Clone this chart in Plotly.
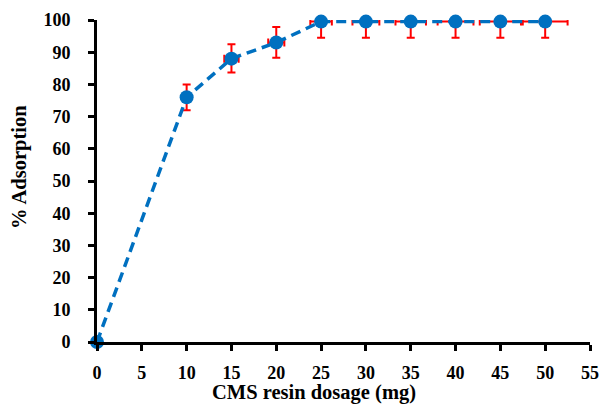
import plotly.graph_objects as go

dosage = [0, 10, 15, 20, 25, 30, 35, 40, 45, 50]
adsorption = [0, 76, 88, 93, 99.5, 99.5, 99.5, 99.5, 99.5, 99.5]
err_y_plus = [0, 4, 4.5, 4.8, 0.5, 0.5, 0.5, 0.5, 0.5, 0.5]
err_y_minus = [0, 4, 4.3, 4.7, 5, 5, 5, 5, 5, 5]
err_x = [0, 0.2, 0.8, 0.9, 1.2, 1.5, 1.7, 2.0, 2.3, 2.5]
x_ticks = [0, 5, 10, 15, 20, 25, 30, 35, 40, 45, 50, 55]
y_ticks = [0, 10, 20, 30, 40, 50, 60, 70, 80, 90, 100]

FAM = "Liberation Serif, Times New Roman, serif"
tick_font = dict(family=FAM, size=18, color="black")
title_font = dict(family=FAM, size=20.5, color="black")

fig = go.Figure()
fig.add_trace(go.Scatter(
    x=dosage, y=adsorption, mode="lines+markers",
    line=dict(color="#0070C0", width=3.5, dash="10px,6px"),
    marker=dict(color="#0070C0", size=14),
    error_y=dict(type="data", symmetric=False, array=err_y_plus, arrayminus=err_y_minus,
                 color="#FF0000", thickness=2, width=4),
    error_x=dict(type="data", array=err_x, color="#FF0000", thickness=2, width=4),
    cliponaxis=False,
))

fig.update_layout(
    width=601, height=405,
    margin=dict(l=97, r=11, t=20, b=63, autoexpand=False),
    paper_bgcolor="white", plot_bgcolor="white",
    showlegend=False,
    font=tick_font,
    annotations=[
        dict(text="<b>CMS resin dosage (mg)</b>", xref="paper", yref="paper",
             x=(314 - 97) / (590 - 97), y=-(392 - 342) / 322, xanchor="center", yanchor="middle",
             showarrow=False, font=title_font),
        dict(text="<b>% Adsorption</b>", xref="paper", yref="paper",
             x=-(97 - 19) / 493, y=(342 - 167) / 322, xanchor="center", yanchor="middle",
             textangle=-90, showarrow=False, font=title_font),
    ],
)
fig.update_xaxes(
    range=[0, 55], tickvals=x_ticks, ticktext=[f"<b>{v}</b>" for v in x_ticks],
    showgrid=False, zeroline=False, showline=True, linecolor="black", linewidth=3,
    ticks="outside", ticklen=6, tickwidth=3, tickcolor="black",
    tickfont=tick_font, ticklabelstandoff=6, automargin=False,
)
fig.update_yaxes(
    range=[0, 100], tickvals=y_ticks, ticktext=[f"<b>{v}</b>" for v in y_ticks],
    showgrid=False, zeroline=False, showline=True, linecolor="black", linewidth=3,
    ticks="outside", ticklen=6, tickwidth=3, tickcolor="black",
    tickfont=tick_font, ticklabelstandoff=14, automargin=False,
)

fig.write_html("out.html", config={"displayModeBar": False},
               post_script="document.body.style.margin='0';document.body.style.overflow='hidden';")
